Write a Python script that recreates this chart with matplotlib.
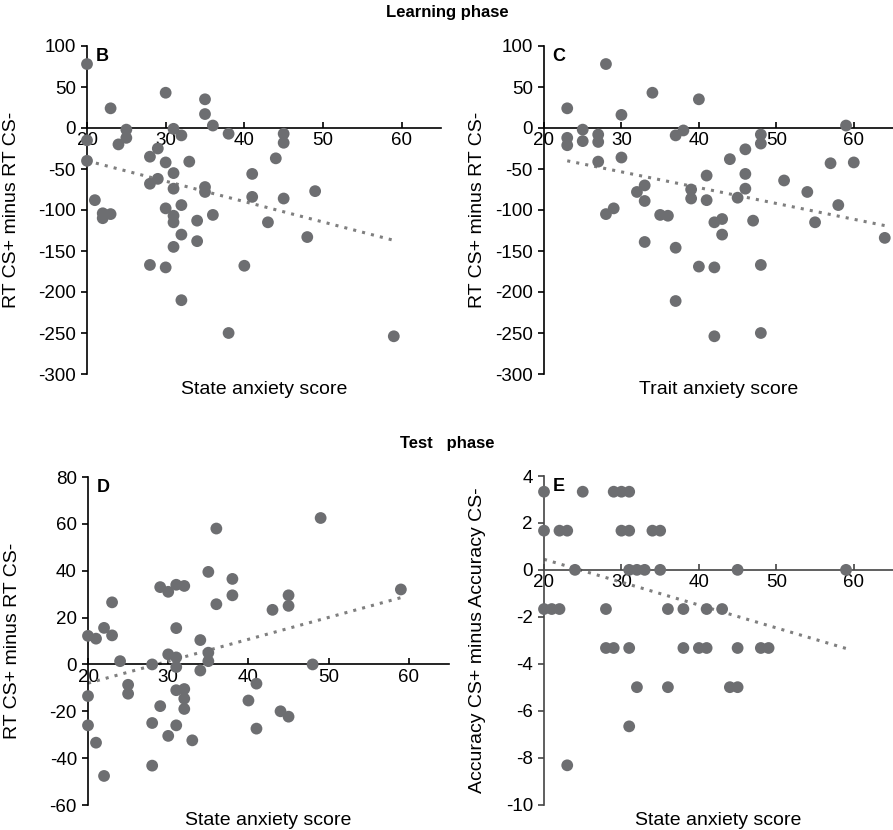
import matplotlib
matplotlib.use("Agg")
import matplotlib.pyplot as plt
import numpy as np

plt.rcParams['font.family'] = ['Liberation Sans', 'DejaVu Sans']
plt.rcParams['axes.unicode_minus'] = False

# ---------------- data ----------------
# Panel B: learning phase, state anxiety vs RT difference
b_x = [20,30,23,35,35,36,31,25,25,32,38,45,45,20,24,29,28,30,20,33,
       44,31,41,29,28,31,35,35,49,41,45,21,32,30,22,23,22,31,31,36,
       34,43,32,34,48,31,28,30,40,32,38,59]
b_y = [78,43,24,35,17,3,-1,-2,-12,-9,-7,-7,-18,-15,-20,-25,-35,-42,-40,-41,
       -37,-55,-56,-62,-68,-74,-72,-78,-77,-84,-86,-88,-94,-98,-104,-105,-110,-107,-115,-106,
       -113,-115,-130,-138,-133,-145,-167,-170,-168,-210,-250,-254]
b_trend_x = [20, 59]
b_trend_y = [-40, -137]

# Panel C: learning phase, trait anxiety vs RT difference
c_x = [28,34,40,23,30,59,25,38,37,27,27,23,23,25,48,48,46,30,27,44,
       57,60,41,46,51,33,32,33,39,39,41,45,46,54,58,28,29,35,36,42,
       43,47,55,43,64,33,37,40,42,48,37,42,48]
c_y = [78,43,35,24,16,3,-2,-3,-9,-8,-17,-12,-21,-16,-8,-19,-26,-36,-41,-38,
       -43,-42,-58,-56,-64,-70,-78,-89,-75,-86,-88,-85,-74,-78,-94,-105,-98,-106,-107,-115,
       -111,-113,-115,-130,-134,-139,-146,-169,-170,-167,-211,-254,-250]
c_trend_x = [23, 64]
c_trend_y = [-40, -119]

# Panel D: test phase, state anxiety vs RT difference
d_x = [49,36,35,38,29,30,31,32,38,45,59,23,36,43,45,22,31,20,21,23,
       34,24,28,30,31,35,35,31,34,48,25,25,31,32,32,32,41,20,40,29,
       44,45,20,28,31,41,30,33,21,28,22]
d_y = [62.5,58,39.5,36.5,33,31,34,33.5,29.5,29.5,32,26.5,25.7,23.3,25,15.6,15.5,12.2,11,12.4,
       10.4,1.4,0,4.3,3,5,1.4,-1.1,-2.6,0,-8.7,-12.5,-11,-10.5,-14.6,-19,-8.2,-13.5,-15.4,-17.8,
       -20,-22.3,-26,-25,-26,-27.4,-30.5,-32.4,-33.4,-43.2,-47.6]
d_trend_x = [20, 59]
d_trend_y = [-8, 28.5]

# Panel E: test phase, state anxiety vs accuracy difference
e_x = [20,25,29,30,31,
       20,22,23,30,31,34,35,
       24,31,32,33,35,45,59,
       20,21,22,28,36,38,41,43,
       28,29,31,38,40,41,45,48,49,
       32,36,44,45,
       31,
       23]
e_y = [3.33,3.33,3.33,3.33,3.33,
       1.67,1.67,1.67,1.67,1.67,1.67,1.67,
       0,0,0,0,0,0,0,
       -1.67,-1.67,-1.67,-1.67,-1.67,-1.67,-1.67,-1.67,
       -3.33,-3.33,-3.33,-3.33,-3.33,-3.33,-3.33,-3.33,-3.33,
       -5,-5,-5,-5,
       -6.67,
       -8.33]
e_trend_x = [20, 59]
e_trend_y = [0.45, -3.35]

x_ticks = [20, 30, 40, 50, 60]

# ---------------- figure ----------------
W, H = 893, 830
fig = plt.figure(figsize=(W / 100, H / 100), dpi=100)

def rect(left, right, top, bottom):
    return [left / W, (H - bottom) / H, (right - left) / W, (bottom - top) / H]

DOT = '#6d6e71'
TREND = '#7f7f7f'
FS = 13.5

def panel(r, xs, ys, tx, ty, ylim, yticks, letter, xlabel, ylabel, ylab_x, spine_col='black'):
    ax = fig.add_axes(r)
    ax.set_facecolor('none')
    ax.plot(tx, ty, linestyle=(0, (1, 2)), color=TREND, lw=2.2, zorder=2)
    ax.scatter(xs, ys, s=72, color=DOT, edgecolors='none', zorder=3, clip_on=False)
    ax.set_xlim(20, 65)
    ax.set_ylim(*ylim)
    ax.set_yticks(yticks)
    ax.set_xticks(x_ticks)
    for s in ['top', 'right']:
        ax.spines[s].set_visible(False)
    ax.spines['bottom'].set_position(('data', 0))
    ax.spines['bottom'].set_color(spine_col)
    ax.spines['left'].set_color(spine_col)
    ax.spines['bottom'].set_linewidth(1.2)
    ax.spines['left'].set_linewidth(1.2)
    ax.tick_params(axis='y', direction='out', length=4, width=1.2, pad=4,
                   labelsize=FS, color=spine_col, labelcolor='black')
    ax.tick_params(axis='x', direction='in', length=4, width=1.2, pad=3,
                   labelsize=FS, color=spine_col, labelcolor='black')
    for lab in ax.get_xticklabels():
        lab.set_zorder(5)
    ax.text(0.025, 0.995, letter, transform=ax.transAxes, fontsize=13,
            fontweight='bold', ha='left', va='top')
    ax.text(0.5, -0.022, xlabel, transform=ax.transAxes, fontsize=14,
            ha='center', va='top')
    ax.set_ylabel(ylabel, fontsize=14)
    ax.yaxis.set_label_coords(ylab_x, 0.5)
    return ax

panel(rect(87, 441, 46, 374), b_x, b_y, b_trend_x, b_trend_y, (-300, 100),
      np.arange(-300, 101, 50), 'B', 'State anxiety score', 'RT CS+ minus RT CS-', -0.19)
panel(rect(544, 892.5, 46, 374), c_x, c_y, c_trend_x, c_trend_y, (-300, 100),
      np.arange(-300, 101, 50), 'C', 'Trait anxiety score', 'RT CS+ minus RT CS-', -0.165)
panel(rect(88, 449, 477, 805), d_x, d_y, d_trend_x, d_trend_y, (-60, 80),
      np.arange(-60, 81, 20), 'D', 'State anxiety score', 'RT CS+ minus RT CS-', -0.185)
panel(rect(544, 892.5, 476, 804.5), e_x, e_y, e_trend_x, e_trend_y, (-10, 4),
      np.arange(-10, 5, 2), 'E', 'State anxiety score', 'Accuracy CS+ minus Accuracy CS-', -0.165,
      spine_col='#444444')

fig.text(447 / W, 1 - 13 / H, 'Learning phase', fontsize=12, fontweight='bold',
         ha='center', va='center')
fig.text(447 / W, 1 - 443 / H, 'Test   phase', fontsize=12, fontweight='bold',
         ha='center', va='center')

fig.savefig('out.png', dpi=100)
